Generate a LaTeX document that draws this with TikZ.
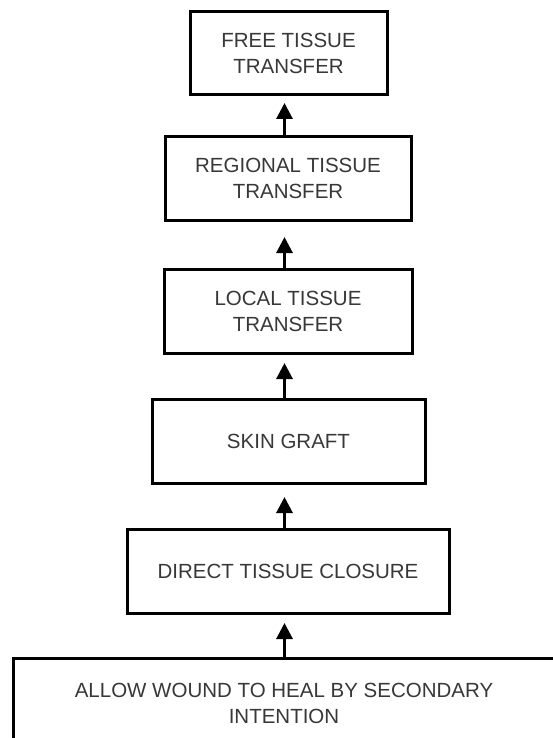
\documentclass[tikz,border=0pt]{standalone}
\usepackage{fontspec}
\setmainfont{Liberation Sans}
\usetikzlibrary{arrows.meta,calc}
\begin{document}
\begin{tikzpicture}[x=1pt,y=-1pt,
  box/.style={draw=black, line width=3pt, outer sep=0pt, inner sep=0pt, align=center,
    text=black!78, font=\fontsize{20.5}{26}\selectfont},
  lbl/.style={align=center, inner sep=0pt, text=black!78, font=\fontsize{20.5}{26}\selectfont},
  arr/.style={-{Triangle[width=16pt,length=16pt]}, line width=3pt}]
\useasboundingbox (0,0) rectangle (553,738);
\fill[white] (0,0) rectangle (553,738);
\node[box, minimum width=197pt, minimum height=83pt] (b1) at (288.5,53.5) {FREE TISSUE\\TRANSFER};
\node[box, minimum width=246pt, minimum height=83pt] (b2) at (288,178.5) {REGIONAL TISSUE\\TRANSFER};
\node[box, minimum width=248pt, minimum height=84pt] (b3) at (288,311) {LOCAL TISSUE\\TRANSFER};
\node[box, minimum width=273pt, minimum height=84pt] (b4) at (288.5,441) {SKIN GRAFT};
\node[box, minimum width=322pt, minimum height=84pt] (b5) at (288,571) {DIRECT TISSUE CLOSURE};
\node[box, minimum width=562pt, minimum height=102pt] (b6) at (294,709) {};
\node[lbl] (t6) at (284,703) {ALLOW WOUND TO HEAL BY SECONDARY\\INTENTION};
\coordinate (ax) at (284.5,0);
\draw[arr] (b2.north -| ax) -- ($(b1.south -| ax)+(0,8)$);
\draw[arr] (b3.north -| ax) -- ($(b2.south -| ax)+(0,17)$);
\draw[arr] (b4.north -| ax) -- ($(b3.south -| ax)+(0,10)$);
\draw[arr] (b5.north -| ax) -- ($(b4.south -| ax)+(0,14)$);
\draw[arr] (b6.north -| ax) -- ($(b5.south -| ax)+(0,10)$);
\end{tikzpicture}
\end{document}
